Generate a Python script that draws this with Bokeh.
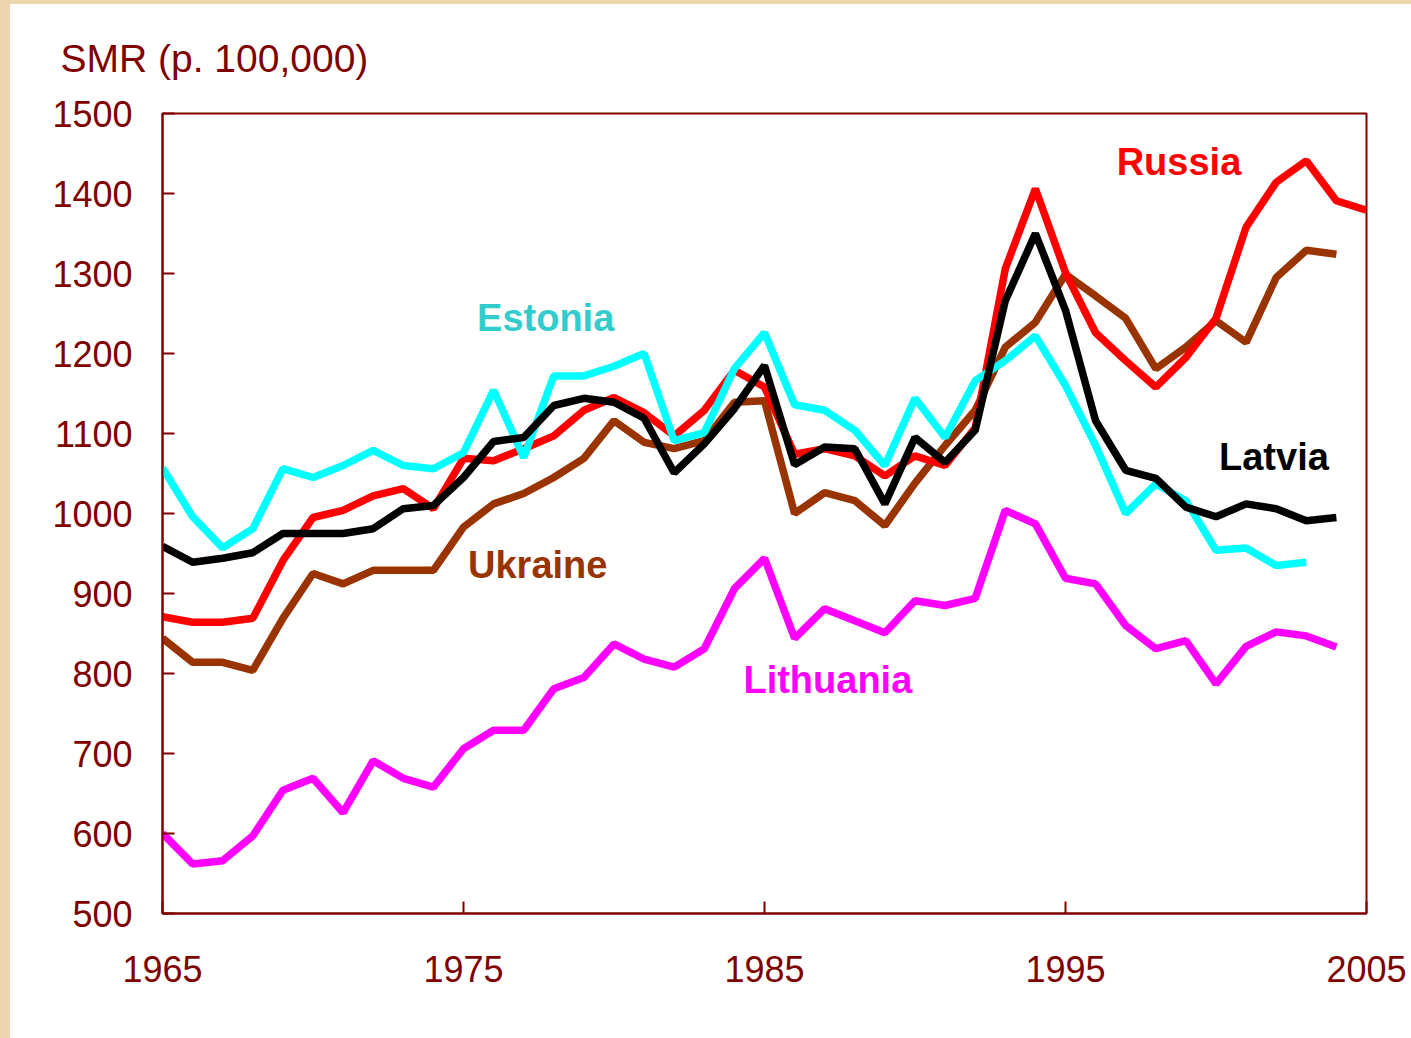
from bokeh.plotting import figure
from bokeh.models import Label, FixedTicker, Range1d
from bokeh.embed import file_html
from bokeh.resources import INLINE

years = list(range(1965, 2006))

russia = [871, 864, 864, 869, 941, 995, 1004, 1022, 1031, 1006,
          1069, 1066, 1081, 1097, 1129, 1145, 1126, 1097, 1129, 1179,
          1158, 1074, 1081, 1072, 1047, 1072, 1060, 1107, 1306, 1406,
          1301, 1226, 1191, 1158, 1195, 1244, 1358, 1414, 1441, 1391,
          1379]
ukraine = [844, 814, 814, 804, 869, 925, 912, 929, 929, 929,
           983, 1012, 1025, 1045, 1069, 1116, 1089, 1081, 1091, 1139,
           1141, 1000, 1026, 1016, 985, 1038, 1085, 1129, 1208, 1239,
           1299, 1272, 1244, 1181, 1208, 1241, 1214, 1295, 1329, 1324]
latvia = [959, 939, 944, 951, 975, 975, 975, 981, 1006, 1010,
          1045, 1090, 1095, 1135, 1144, 1139, 1119, 1051, 1087, 1131,
          1185, 1061, 1083, 1081, 1012, 1095, 1064, 1104, 1266, 1350,
          1254, 1116, 1054, 1044, 1008, 996, 1012, 1006, 991, 995]
estonia = [1057, 996, 957, 981, 1056, 1045, 1060, 1079, 1060, 1056,
           1076, 1154, 1070, 1172, 1172, 1184, 1200, 1091, 1101, 1181,
           1226, 1136, 1129, 1104, 1060, 1144, 1095, 1166, 1191, 1222,
           1160, 1085, 1000, 1037, 1016, 954, 957, 935, 939]
lithuania = [600, 562, 566, 597, 654, 669, 626, 691, 669, 658,
             706, 729, 729, 781, 795, 837, 818, 808, 831, 906,
             944, 844, 881, 866, 851, 891, 885, 894, 1004, 987,
             919, 912, 860, 831, 841, 787, 834, 852, 847, 833]

x_ticks = [1965, 1975, 1985, 1995, 2005]
y_ticks = [500, 600, 700, 800, 900, 1000, 1100, 1200, 1300, 1400, 1500]
title_text = "SMR (p. 100,000)"

DARK = "#800000"

p = figure(width=1411, height=1038, output_backend="svg", toolbar_location=None,
           x_range=Range1d(1965, 2005), y_range=Range1d(500, 1500),
           min_border_left=162, min_border_right=45, min_border_top=113,
           min_border_bottom=125)
p.background_fill_color = "white"
p.border_fill_color = None
p.outline_line_color = DARK
p.outline_line_width = 2
p.grid.visible = False

p.title.text = title_text
p.title.align = "left"
p.title.vertical_align = "top"
p.title.offset = -102
p.title.text_font = "Liberation Sans"
p.title.text_font_size = "39px"
p.title.text_font_style = "normal"
p.title.text_color = DARK
p.title.standoff = 64

for ax in (p.xaxis[0], p.yaxis[0]):
    ax.axis_line_color = DARK
    ax.axis_line_width = 2
    ax.major_tick_line_color = DARK
    ax.major_tick_line_width = 2
    ax.major_tick_in = 12
    ax.major_tick_out = 0
    ax.minor_tick_line_color = None
    ax.major_label_text_font = "Liberation Sans"
    ax.major_label_text_font_size = "36px"
    ax.major_label_text_color = DARK

p.xaxis.ticker = FixedTicker(ticks=x_ticks)
p.yaxis.ticker = FixedTicker(ticks=y_ticks)
p.xaxis.major_label_standoff = 42
p.yaxis.major_label_standoff = 30

W = 7.5
p.line(years[:len(ukraine)], ukraine, line_color="#993300", line_width=W)
p.line(years[:len(russia)], russia, line_color="#FF0000", line_width=W)
p.line(years[:len(estonia)], estonia, line_color="#00FFFF", line_width=W)
p.line(years[:len(latvia)], latvia, line_color="#000000", line_width=W)
p.line(years[:len(lithuania)], lithuania, line_color="#FF00FF", line_width=W)

labels = [
    ("Russia", 1996.7, 1439, "#FF0000"),
    ("Estonia", 1975.45, 1245, "#33CCCC"),
    ("Ukraine", 1975.15, 936, "#993300"),
    ("Latvia", 2000.1, 1071, "#000000"),
    ("Lithuania", 1984.3, 792, "#FF00FF"),
]
for txt, lx, ly, col in labels:
    p.add_layout(Label(x=lx, y=ly, text=txt, text_color=col,
                       text_font="Liberation Sans", text_font_style="bold",
                       text_font_size="38px", text_baseline="middle",
                       text_align="left"))

style = ("<style>html,body{margin:0;padding:0;overflow:hidden;}"
         "html{background:linear-gradient(to right,#EBD5AC 0,#EBD5AC 10px,transparent 10px),"
         "linear-gradient(to bottom,#EBD5AC 0,#EBD5AC 4px,#FFFFFF 4px);}"
         "body{background:transparent;}</style>")
open("out.html", "w").write(file_html(p, INLINE).replace("<head>", "<head>" + style, 1))
